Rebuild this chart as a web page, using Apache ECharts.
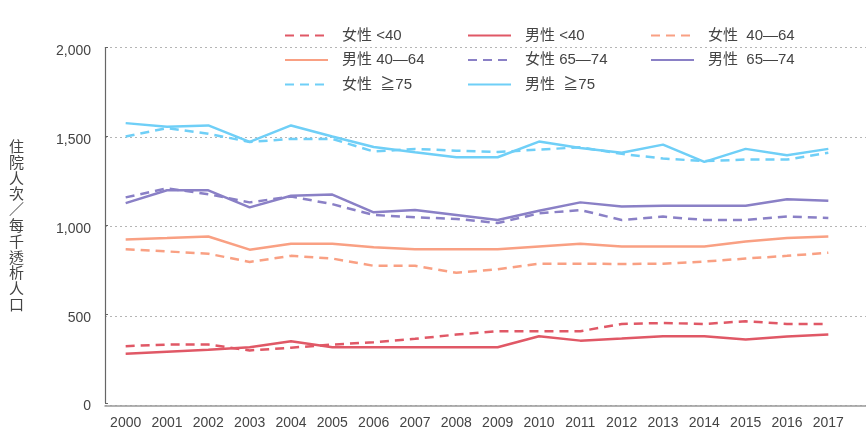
<!DOCTYPE html>
<html>
<head>
<meta charset="utf-8">
<script src="https://cdn.jsdelivr.net/npm/echarts@6/dist/echarts.min.js"></script>
<style>
  html, body { margin: 0; padding: 0; background: #fff; }
  #chart { width: 866px; height: 430px; }
</style>
</head>
<body>
<div id="chart"></div>
<script>
const years = ['2000', '2001', '2002', '2003', '2004', '2005', '2006', '2007', '2008',
  '2009', '2010', '2011', '2012', '2013', '2014', '2015', '2016', '2017']
const yTicks = [0, 500, 1000, 1500, 2000]

const femaleUnder40 = [320, 329, 329, 296, 311, 329, 342, 361, 385, 404, 404, 404, 445, 450, 445, 460, 445, 445]
const maleUnder40 = [277, 289, 299, 314, 348, 314, 314, 314, 314, 314, 376, 351, 363, 376, 376, 357, 374, 385]
const female4064 = [865, 853, 840, 794, 828, 813, 772, 772, 733, 753, 784, 784, 782, 784, 796, 813, 828, 846]
const male4064 = [920, 928, 937, 863, 896, 896, 876, 865, 865, 865, 881, 896, 881, 881, 881, 909, 928, 937]
const female6574 = [1157, 1208, 1175, 1129, 1162, 1119, 1058, 1045, 1036, 1013, 1067, 1086, 1030, 1049, 1030, 1030, 1049, 1041]
const male6574 = [1125, 1197, 1197, 1101, 1166, 1173, 1073, 1086, 1058, 1030, 1082, 1129, 1106, 1110, 1110, 1110, 1147, 1138]
const femaleOver75 = [1500, 1547, 1515, 1469, 1486, 1486, 1415, 1430, 1420, 1413, 1426, 1439, 1402, 1376, 1361, 1370, 1370, 1408]
const maleOver75 = [1575, 1555, 1562, 1469, 1562, 1500, 1441, 1411, 1383, 1383, 1471, 1435, 1408, 1454, 1357, 1430, 1394, 1430]

const seriesNames = ['女性 <40', '男性 <40', '女性  40—64', '男性 40—64', '女性 65—74', '男性  65—74', '女性  ≧75', '男性  ≧75']

const RED = '#e05866'
const ORANGE = '#f9a083'
const PURPLE = '#8a80c6'
const BLUE = '#6fcff7'
const FONT = '"Liberation Sans", "Noto Sans CJK TC", sans-serif'
const DASH = [9, 6]

function line (name, data, color, dashed) {
  return {
    name: name,
    type: 'line',
    data: data,
    symbol: 'none',
    smooth: false,
    color: color,
    lineStyle: { color: color, width: 2.5, type: dashed ? DASH : 'solid' },
    emphasis: { disabled: true }
  }
}

function legendCol (left, names) {
  return {
    orient: 'vertical',
    left: left,
    top: 28,
    itemWidth: 43,
    itemHeight: 14,
    itemGap: 9.5,
    padding: 0,
    selectedMode: false,
    itemStyle: { opacity: 0 },
    data: names,
    textStyle: { fontFamily: FONT, fontSize: 15, color: '#444', lineHeight: 14, padding: [0, 0, 0, 9] }
  }
}

const chart = echarts.init(document.getElementById('chart'))
chart.setOption({
  animation: false,
  legend: [
    legendCol(284, [seriesNames[0], seriesNames[3], seriesNames[6]]),
    legendCol(467, [seriesNames[1], seriesNames[4], seriesNames[7]]),
    legendCol(650, [seriesNames[2], seriesNames[5]])
  ],
  grid: [
    { left: 105, right: 17, top: 47.6, bottom: 24.3 },
    { left: 105, right: 0, top: 47.6, bottom: 24.3 }
  ],
  xAxis: [
    {
      type: 'category',
      gridIndex: 0,
      data: years,
      boundaryGap: true,
      axisLine: { show: false },
      axisTick: { show: false },
      axisLabel: { fontFamily: FONT, fontSize: 14, color: '#444', margin: 13, interval: 0 }
    },
    {
      type: 'value',
      gridIndex: 1,
      min: 0,
      max: 1,
      axisLine: { show: true, lineStyle: { color: '#999', width: 1.5 } },
      axisTick: { show: false },
      axisLabel: { show: false },
      splitLine: { show: false }
    }
  ],
  yAxis: [
    {
      type: 'value',
      gridIndex: 0,
      min: yTicks[0],
      max: yTicks[yTicks.length - 1],
      interval: 500,
      name: '住院人次／每千透析人口'.split('').join('\n'),
      nameLocation: 'middle',
      nameRotate: 0,
      nameGap: 81,
      nameTextStyle: { fontFamily: '"Noto Sans CJK TC", sans-serif', fontSize: 15, color: '#444', lineHeight: 15.8 },
      axisLine: { show: true, lineStyle: { color: '#666', width: 1.2 } },
      axisTick: { show: true, inside: true, length: 3, lineStyle: { color: '#666' } },
      axisLabel: {
        fontFamily: FONT,
        fontSize: 14,
        color: '#444',
        margin: 14,
        lineHeight: 7,
        verticalAlign: 'top',
        formatter: v => v.toLocaleString('en-US')
      },
      splitLine: { show: false }
    },
    {
      type: 'value',
      gridIndex: 1,
      min: yTicks[0],
      max: yTicks[yTicks.length - 1],
      interval: 500,
      axisLine: { show: false },
      axisTick: { show: false },
      axisLabel: { show: false },
      splitLine: { show: true, lineStyle: { color: '#b5b5b5', type: [2, 3], width: 1 } }
    }
  ],
  series: [
    line(seriesNames[0], femaleUnder40, RED, true),
    line(seriesNames[1], maleUnder40, RED, false),
    line(seriesNames[2], female4064, ORANGE, true),
    line(seriesNames[3], male4064, ORANGE, false),
    line(seriesNames[4], female6574, PURPLE, true),
    line(seriesNames[5], male6574, PURPLE, false),
    line(seriesNames[6], femaleOver75, BLUE, true),
    line(seriesNames[7], maleOver75, BLUE, false)
  ]
})
</script>
</body>
</html>
